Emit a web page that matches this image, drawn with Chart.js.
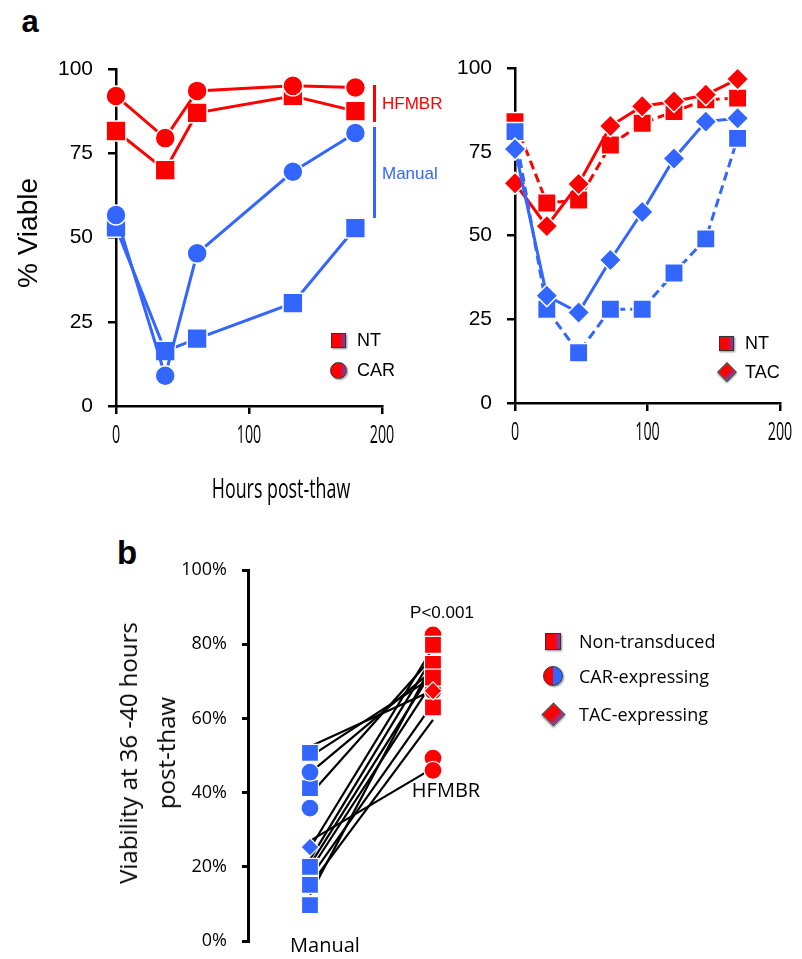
<!DOCTYPE html>
<html>
<head>
<meta charset="utf-8">
<script src="https://cdn.jsdelivr.net/npm/chart.js@4.4.0/dist/chart.umd.min.js"></script>
<style>
    body { margin: 0; background: #fff; }
    #fig { position: relative; width: 802px; height: 959px; overflow: hidden; font-family: "Liberation Sans", Arial, sans-serif; color: #000; }
    #fig canvas { position: absolute; }
    .lbl { position: absolute; white-space: nowrap; line-height: 1; }
    .c { transform: translate(-50%, -50%); }
    .l { transform: translateY(-50%); }
    .cal { font-family: "Open Sans", sans-serif; }
    .mk { position: absolute; box-sizing: border-box; border: 1.5px solid #333; box-shadow: 1px 1px 2px rgba(0,0,0,0.45);
          background: linear-gradient(to right, #ff0000 55%, #7a3fa8); }
    .bar { position: absolute; width: 3px; }
</style>
</head>
<body>
<div id="fig">
    <canvas id="chartA1" width="406" height="428" style="left:16px; top:41px;"></canvas>
    <canvas id="chartA2" width="405" height="426" style="left:415px; top:40px;"></canvas>
    <canvas id="chartB" width="340" height="427" style="left:148px; top:542px;"></canvas>

    <div class="lbl c" style="left:30px; top:21px; font-size:31px; font-weight:bold;">a</div>
    <div class="lbl c" style="left:127px; top:552px; font-size:33px; font-weight:bold;">b</div>

    <div class="lbl c" style="left:28px; top:233px; font-size:28px; transform:translate(-50%,-50%) rotate(-90deg);">% Viable</div>
    <div class="lbl c cal" style="left:281px; top:487px; font-size:27px; transform:translate(-50%,-50%) scaleX(0.66);">Hours post-thaw</div>

    <!-- brackets beside the left panel -->
    <div class="bar" style="left:373px; top:85px; height:37px; background:#ff0000;"></div>
    <div class="bar" style="left:373px; top:127px; height:91px; background:#3366ff;"></div>
    <div class="lbl l" style="left:382px; top:103px; font-size:17px; color:#ff0000;">HFMBR</div>
    <div class="lbl l" style="left:382px; top:173px; font-size:17px; color:#3366ff;">Manual</div>

    <!-- panel a legends -->
    <div class="mk" style="left:331px; top:333px; width:15px; height:15px;"></div>
    <div class="lbl l" style="left:357px; top:340px; font-size:18px;">NT</div>
    <div class="mk" style="left:330px; top:362px; width:17px; height:17px; border-radius:50%;"></div>
    <div class="lbl l" style="left:357px; top:370px; font-size:18px;">CAR</div>

    <div class="mk" style="left:719px; top:336px; width:15px; height:15px;"></div>
    <div class="lbl l" style="left:745px; top:343px; font-size:18px;">NT</div>
    <div class="mk" style="left:720px; top:365px; width:14px; height:14px; transform:rotate(45deg);"></div>
    <div class="lbl l" style="left:745px; top:372px; font-size:18px;">TAC</div>

    <!-- panel b -->
    <div class="lbl c cal" style="left:147px; top:753px; font-size:24px; text-align:center; line-height:38px; transform:translate(-50%,-50%) rotate(-90deg);">Viability at 36 -40 hours<br>post-thaw</div>
    <div class="lbl c" style="left:442px; top:612px; font-size:17px;">P&lt;0.001</div>
    <div id="nameHF" class="lbl c cal" style="left:446px; top:790px; font-size:20px;"></div>
    <div id="nameMan" class="lbl c cal" style="left:325px; top:945px; font-size:20px;"></div>

    <div class="mk" style="left:545px; top:633px; width:16px; height:17px;"></div>
    <div class="lbl l cal" style="left:579px; top:641px; font-size:18px;">Non-transduced</div>
    <div class="mk" style="left:543px; top:666px; width:20px; height:20px; border-radius:50%; background:linear-gradient(to right, #ff0000 50%, #3366ff 50%);"></div>
    <div class="lbl l cal" style="left:579px; top:676px; font-size:18px;">CAR-expressing</div>
    <div class="mk" style="left:545px; top:706px; width:17px; height:17px; transform:rotate(45deg);"></div>
    <div class="lbl l cal" style="left:579px; top:714px; font-size:18px;">TAC-expressing</div>
</div>

<script>
    // panel a, left: hours post-thaw and % viable
    const hoursA = [0, 37, 61, 133, 180];
    const hfmbrCarA = [92, 79.5, 93.5, 95, 94.5];
    const hfmbrNtA = [81.6, 70, 87, 92, 87.5];
    const manualCarA = [56.7, 9, 45.3, 69.5, 81];
    const manualNtA = [53, 16.3, 20, 30.5, 52.8];

    // panel a, right
    const hoursB = [0, 24, 48, 72, 96, 120, 144, 168];
    const hfmbrTacB = [65.6, 52.8, 65.4, 82.7, 88.6, 90, 92, 96.7];
    const hfmbrNtB = [84, 59.7, 60.6, 77, 83.5, 87, 90.5, 91];
    const manualTacB = [75.8, 32, 27, 42.7, 57, 73, 84, 85];
    const manualNtB = [81, 28, 15, 28, 28, 38.8, 49, 79];

    const hourTicks = [0, 100, 200];
    const viableTicks = [0, 25, 50, 75, 100];

    // panel b: viability at 36-40 h
    const groupNames = ['Manual', 'HFMBR'];
    const pairManual = [52.4, 49.7, 45.3, 39.4, 27, 25, 22, 20.5, 19, 17, 15, 12.5];
    const pairHfmbr = [67.6, 71.2, 73, 76.6, 46.6, 79, 76.6, 73, 70, 64, 59.6, 75];
    const manualSquares = [50.7, 41.2, 20, 15.1, 9.7];
    const manualCircles = [45.5, 35.8];
    const manualDiamonds = [25.3];
    const hfmbrSquares = [79.8, 74.7, 71, 63];
    const hfmbrCircles = [82.5, 67.4, 49.3, 46];
    const hfmbrDiamonds = [67.4];
    const percentTicks = [0, 20, 40, 60, 80, 100];

    const RED = '#ff0000';
    const BLUE = '#3366ff';

    Chart.defaults.animation = false;
    Chart.defaults.devicePixelRatio = 1;
    Chart.defaults.plugins.legend.display = false;
    Chart.defaults.plugins.tooltip.enabled = false;

    document.getElementById('nameMan').textContent = groupNames[0];
    document.getElementById('nameHF').textContent = groupNames[1];

    function points(xs, ys) {
        return ys.map((y, i) => ({ x: xs[i], y: y }));
    }

    function seriesSet(xs, ys, color, style, radius, dash) {
        return {
            data: points(xs, ys),
            borderColor: color,
            borderWidth: 3,
            borderDash: dash || [],
            pointStyle: style,
            pointRadius: radius,
            pointBackgroundColor: color,
            pointBorderColor: '#ffffff',
            pointBorderWidth: 1.5,
            clip: false,
        };
    }

    function fixedTicks(list) {
        return function (scale) {
            scale.ticks = list.map((v) => ({ value: v }));
        };
    }

    // the hour labels are a tall narrow face; drawn squeezed at the scale's own tick positions
    const narrowHourLabels = {
        id: 'narrowHourLabels',
        afterDraw(chart) {
            const scale = chart.scales.x;
            const ctx = chart.ctx;
            ctx.save();
            ctx.font = '26px "Open Sans", sans-serif';
            ctx.fillStyle = '#000';
            ctx.textAlign = 'center';
            ctx.textBaseline = 'middle';
            hourTicks.forEach((v) => {
                ctx.save();
                ctx.translate(scale.getPixelForValue(v), scale.top + 30);
                ctx.scale(0.55, 1);
                ctx.fillText(String(v), 0, 0);
                ctx.restore();
            });
            ctx.restore();
        }
    };

    function timeScales() {
        return {
            x: {
                type: 'linear',
                min: 0,
                max: 200,
                afterBuildTicks: fixedTicks(hourTicks),
                afterFit: (scale) => { scale.height = 50; },
                border: { display: true, color: '#000', width: 2.5 },
                grid: { drawOnChartArea: false, color: '#000', lineWidth: 2.5, tickLength: 8 },
                ticks: { color: 'rgba(0,0,0,0)', padding: 8, font: { size: 18 } }
            },
            y: {
                min: 0,
                max: 100,
                afterBuildTicks: fixedTicks(viableTicks),
                afterFit: (scale) => { scale.width = 100; },
                border: { display: true, color: '#000', width: 2.5 },
                grid: { drawOnChartArea: false, color: '#000', lineWidth: 2.5, tickLength: 8 },
                ticks: { color: '#000', padding: 15, font: { family: '"Liberation Sans", Arial, sans-serif', size: 21 } }
            }
        };
    }

    new Chart(document.getElementById('chartA1'), {
        type: 'line',
        data: {
            datasets: [
                seriesSet(hoursA, manualCarA, BLUE, 'circle', 10),
                seriesSet(hoursA, manualNtA, BLUE, 'rect', 14),
                seriesSet(hoursA, hfmbrCarA, RED, 'circle', 10),
                seriesSet(hoursA, hfmbrNtA, RED, 'rect', 14),
            ]
        },
        options: {
            responsive: false,
            layout: { padding: { top: 28, right: 40, bottom: 13, left: 0 } },
            scales: timeScales()
        },
        plugins: [narrowHourLabels]
    });

    new Chart(document.getElementById('chartA2'), {
        type: 'line',
        data: {
            datasets: [
                seriesSet(hoursB, manualTacB, BLUE, 'rectRot', 11),
                seriesSet(hoursB, manualNtB, BLUE, 'rect', 13, [9, 5]),
                seriesSet(hoursB, hfmbrTacB, RED, 'rectRot', 11),
                seriesSet(hoursB, hfmbrNtB, RED, 'rect', 13, [9, 5]),
            ]
        },
        options: {
            responsive: false,
            layout: { padding: { top: 28, right: 40, bottom: 13, left: 0 } },
            scales: timeScales()
        },
        plugins: [narrowHourLabels]
    });

    // panel b: one black segment per sample, markers on top
    function column(group, values, color, style, radius) {
        return {
            type: 'scatter',
            data: values.map((v) => ({ x: group, y: v })),
            pointStyle: style,
            pointRadius: radius,
            pointBackgroundColor: color,
            pointBorderColor: '#ffffff',
            pointBorderWidth: 1.2,
            clip: false,
        };
    }

    let pairSets = pairManual.map((v, i) => ({
        type: 'line',
        data: [{ x: 1, y: v }, { x: 2, y: pairHfmbr[i] }],
        borderColor: '#000',
        borderWidth: 2.2,
        pointRadius: 0,
        clip: false,
    }));

    new Chart(document.getElementById('chartB'), {
        type: 'scatter',
        data: {
            datasets: [
                column(1, manualDiamonds, BLUE, 'rectRot', 9),
                column(1, manualCircles, BLUE, 'circle', 9),
                column(1, manualSquares, BLUE, 'rect', 12),
                column(2, hfmbrDiamonds, RED, 'rectRot', 9),
                column(2, hfmbrSquares, RED, 'rect', 12),
                column(2, hfmbrCircles, RED, 'circle', 9),
            ].concat(pairSets)
        },
        options: {
            responsive: false,
            layout: { padding: { top: 28, right: 18, bottom: 28, left: 0 } },
            scales: {
                x: { type: 'linear', display: false, min: 0.496, max: 2.301 },
                y: {
                    min: 0,
                    max: 100,
                    afterBuildTicks: fixedTicks(percentTicks),
                    afterFit: (scale) => { scale.width = 100; },
                    border: { display: true, color: '#000', width: 3 },
                    grid: { drawOnChartArea: false, color: '#000', lineWidth: 3, tickLength: 6 },
                    ticks: {
                        color: '#000',
                        padding: 15,
                        font: { family: '"Open Sans", sans-serif', size: 18 },
                        callback: (v) => v + '%'
                    }
                }
            }
        }
    });
</script>
</body>
</html>
